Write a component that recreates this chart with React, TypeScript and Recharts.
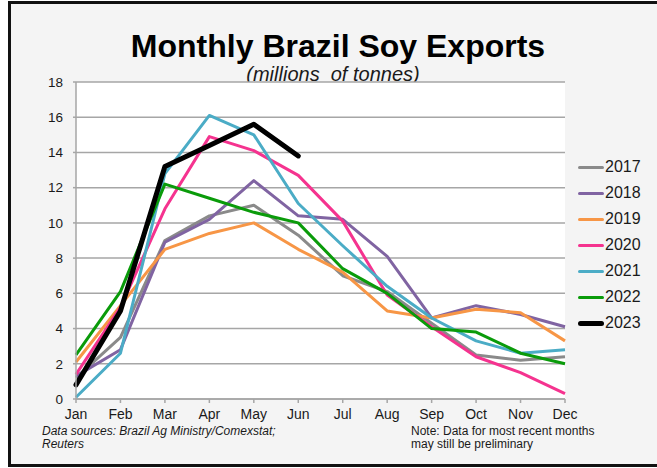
import React from "react";
import { CartesianGrid, Legend, Line, LineChart, XAxis, YAxis } from "recharts";

const MONTHS = ["Jan", "Feb", "Mar", "Apr", "May", "Jun", "Jul", "Aug", "Sep", "Oct", "Nov", "Dec"];
const Y_TICKS = [0, 2, 4, 6, 8, 10, 12, 14, 16, 18];

// millions of tonnes
const Y2017 = [1.2, 3.5, 9.0, 10.4, 11.0, 9.3, 7.0, 6.1, 4.3, 2.5, 2.2, 2.4];
const Y2018 = [1.3, 2.8, 8.9, 10.2, 12.4, 10.4, 10.2, 8.1, 4.6, 5.3, 4.8, 4.1];
const Y2019 = [2.1, 5.3, 8.5, 9.4, 10.0, 8.5, 7.2, 5.0, 4.6, 5.1, 4.9, 3.3];
const Y2020 = [1.4, 5.2, 10.8, 14.9, 14.1, 12.7, 10.1, 5.9, 4.1, 2.4, 1.5, 0.3];
const Y2021 = [0.1, 2.6, 12.8, 16.1, 15.0, 11.1, 8.7, 6.4, 4.6, 3.3, 2.6, 2.8];
const Y2022 = [2.5, 6.1, 12.2, 11.4, 10.6, 10.0, 7.4, 6.0, 4.0, 3.8, 2.6, 2.0];
const Y2023 = [0.8, 5.0, 13.2, 14.4, 15.6, 13.8];

const SERIES = [
  { key: "2017", values: Y2017, color: "#8a8a8a", width: 3 },
  { key: "2018", values: Y2018, color: "#8064a2", width: 3 },
  { key: "2019", values: Y2019, color: "#f79646", width: 3 },
  { key: "2020", values: Y2020, color: "#f5338f", width: 3 },
  { key: "2021", values: Y2021, color: "#4bacc6", width: 3 },
  { key: "2022", values: Y2022, color: "#0a9b0a", width: 3 },
  { key: "2023", values: Y2023, color: "#000000", width: 5 },
];

const data = MONTHS.map((month, i) => {
  const row: Record<string, string | number | null> = { month };
  SERIES.forEach((s) => {
    row[s.key] = i < s.values.length ? s.values[i] : null;
  });
  return row;
});

const FONT = '"Liberation Sans", Arial, Helvetica, sans-serif';
const GRID = "#a6a6a6";
const INK = "#1a1a1a";

const renderLegend = (props: any) => {
  const payload = (props.payload || []) as { value: string; color: string }[];
  return (
    <div style={{ fontFamily: FONT }}>
      {payload.map((p) => {
        const s = SERIES.find((x) => x.key === p.value);
        const thick = s ? s.width : 3;
        return (
          <div key={p.value} style={{ display: "flex", alignItems: "center", height: 26 }}>
            <span
              style={{
                display: "inline-block",
                width: 26,
                height: thick,
                background: p.color,
                borderRadius: thick / 2,
              }}
            />
            <span style={{ marginLeft: 1, fontSize: 16, color: INK, lineHeight: "16px" }}>{p.value}</span>
          </div>
        );
      })}
    </div>
  );
};

export default function App() {
  return (
    <div
      style={{
        position: "fixed",
        left: 0,
        top: 0,
        width: 657,
        height: 468,
        background: "#fff",
        overflow: "hidden",
        fontFamily: FONT,
      }}
    >
      <div
        style={{
          position: "absolute",
          left: 8,
          top: 1,
          width: 680,
          height: 460,
          border: "3px solid #111",
          background: "#f4f4f4",
        }}
      />
      <div
        style={{
          position: "absolute",
          left: 338,
          top: 31,
          transform: "translateX(-50%)",
          whiteSpace: "nowrap",
          fontSize: 32,
          lineHeight: "30px",
          fontWeight: 700,
          color: "#000",
        }}
      >
        Monthly Brazil Soy Exports
      </div>
      <div
        style={{
          position: "absolute",
          left: 333,
          top: 65,
          transform: "translateX(-50%)",
          whiteSpace: "pre",
          fontSize: 20,
          lineHeight: "18px",
          fontStyle: "italic",
          color: INK,
        }}
      >
        {"(millions  of tonnes)"}
      </div>
      <div style={{ position: "absolute", left: 0, top: 0 }}>
        <LineChart width={657} height={468} data={data} margin={{ top: 82, right: 92, bottom: 39, left: 36 }}>
          <CartesianGrid vertical={false} stroke={GRID} strokeWidth={1.5} fill="#ffffff" />
          <XAxis
            dataKey="month"
            height={30}
            tickSize={4}
            tickMargin={6}
            axisLine={{ stroke: GRID, strokeWidth: 1.5 }}
            tickLine={{ stroke: GRID, strokeWidth: 1.5 }}
            tick={{ fill: INK, fontSize: 14, fontFamily: FONT }}
            interval={0}
          />
          <YAxis
            width={40}
            domain={[0, 18]}
            ticks={Y_TICKS}
            tickSize={3}
            tickMargin={10}
            axisLine={{ stroke: GRID, strokeWidth: 1.5 }}
            tickLine={{ stroke: GRID, strokeWidth: 1.5 }}
            tick={{ fill: INK, fontSize: 13.5, fontFamily: FONT }}
            allowDataOverflow
          />
          <Legend
            layout="horizontal"
            verticalAlign="middle"
            align="center"
            content={renderLegend}
            wrapperStyle={{ left: 578, top: 154, width: 79 }}
          />
          {SERIES.map((s) => (
            <Line
              key={s.key}
              type="linear"
              dataKey={s.key}
              name={s.key}
              stroke={s.color}
              strokeWidth={s.width}
              strokeLinejoin="round"
              strokeLinecap={s.key === "2023" ? "round" : "butt"}
              dot={false}
              activeDot={false}
              isAnimationActive={false}
            />
          ))}
        </LineChart>
      </div>
      <div
        style={{
          position: "absolute",
          left: 42,
          top: 425,
          fontSize: 12,
          lineHeight: "13px",
          fontStyle: "italic",
          color: INK,
          whiteSpace: "nowrap",
        }}
      >
        Data sources: Brazil Ag Ministry/Comexstat;
        <br />
        Reuters
      </div>
      <div
        style={{
          position: "absolute",
          left: 411,
          top: 425,
          fontSize: 12,
          lineHeight: "12.5px",
          color: INK,
          whiteSpace: "nowrap",
        }}
      >
        Note: Data for most recent months
        <br />
        may still be preliminary
      </div>
    </div>
  );
}
